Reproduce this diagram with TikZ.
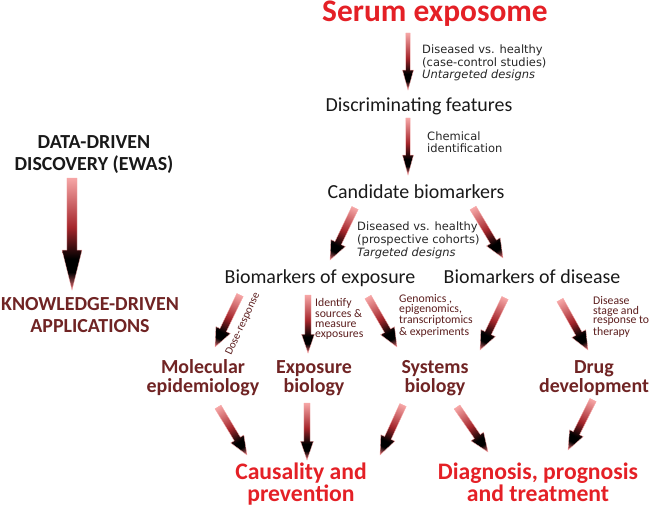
\documentclass[tikz,border=0pt]{standalone}
\usepackage{fontspec}
\setmainfont{Carlito}
\newfontfamily\verdanalike{DejaVu Sans}
\usetikzlibrary{positioning, calc}

\definecolor{serumred}{RGB}{228,32,38}
\definecolor{appred}{RGB}{112,36,36}
\definecolor{notebrown}{RGB}{92,30,30}
\definecolor{arrpink}{RGB}{246,166,166}
\definecolor{arrred}{RGB}{165,38,44}
\definecolor{arrtip}{RGB}{236,112,118}

% pink tail -> black neck -> reddish tip
\pgfdeclarehorizontalshading{arrowgrad}{100bp}{color(0bp)=(arrpink); color(25bp)=(arrpink);
  color(47bp)=(arrred); color(61bp)=(black); color(67bp)=(black); color(75bp)=(arrtip); color(100bp)=(arrtip)}

% \shadedarrow{tail}{head}{shaft half width}{head half width}{head length}, widths in pt
\newcommand\shadedarrow[5]{%
  \pgfpointdiff{\pgfpointanchor{#1}{center}}{\pgfpointanchor{#2}{center}}%
  \pgfgetlastxy{\arrdx}{\arrdy}%
  \pgfmathsetmacro\arrlen{veclen(\arrdx,\arrdy)}%
  \pgfmathsetmacro\arrang{atan2(\arrdy,\arrdx)}%
  \pgfmathsetmacro\arrneck{\arrlen-#5}%
  \pgfpointanchor{#1}{center}\pgfgetlastxy{\arrx}{\arry}%
  \begin{scope}[transform canvas={shift={(\arrx,\arry)}, rotate=\arrang}]
    \shade[shading=arrowgrad, draw=arrpink, line width=0.3pt]
      (0pt,-#3pt) -- (\arrneck pt,-#3pt) -- (\arrneck pt,-#4pt) -- (\arrlen pt,0pt)
      -- (\arrneck pt,#4pt) -- (\arrneck pt,#3pt) -- (0pt,#3pt) -- cycle;
  \end{scope}}

\begin{document}
\begin{tikzpicture}[
  x=0.03cm, y=-0.03cm,
  headline/.style = {font=\fontsize{26.8}{28}\selectfont\bfseries, text=serumred, inner sep=0pt, anchor=base},
  stage/.style    = {font=\fontsize{17}{19}\selectfont, text=black!90, inner sep=0pt, anchor=base},
  field/.style    = {font=\fontsize{17}{15.4}\selectfont\bfseries, text=appred, align=center, inner sep=0pt, anchor=base},
  goal/.style     = {font=\fontsize{20.2}{14.5}\selectfont\bfseries, text=serumred, align=center, inner sep=0pt, anchor=base},
  approach/.style = {font=\fontsize{17}{18}\selectfont\bfseries, align=center, inner sep=0pt, anchor=base},
  note/.style     = {font=\verdanalike\fontsize{9.8}{10.9}\selectfont, text=black!85, align=left, inner sep=0pt, anchor=base west},
  tinynote/.style = {font=\fontsize{10}{8.3}\selectfont, text=notebrown, align=left, inner sep=0pt, anchor=base west}
]
\useasboundingbox (0,0) rectangle (651,508);

% Main chain (base = last line)
\node[headline] (serum) at (435,22) {Serum exposome};
\node[stage] (discrim) at (419,112) {Discriminating features};
\node[stage] (candid) at (416,198) {Candidate biomarkers};
\node[stage] (bexpo) at (320,283) {Biomarkers of exposure};
\node[stage] (bdis) at (532,283) {Biomarkers of disease};

% Step notes
\node[note] (note1) at (422,79) {Diseased vs. healthy\\(case-control studies)\\\textit{Untargeted designs}};
\node[note] (note2) at (427,153) {Chemical\\identification};
\node[note] (note3) at (357,256) {Diseased vs. healthy\\(prospective cohorts)\\\textit{Targeted designs}};
\node[tinynote] (note4) at (315,337) {Identify\\sources \&\\measure\\exposures};
\node[tinynote] (note5) at (399,335) {Genomics ,\\epigenomics,\\transcriptomics\\\& experiments};
\node[tinynote] (note6) at (593,335) {Disease\\stage and\\response to\\therapy};
\node[tinynote, font=\fontsize{9.5}{10}\selectfont, rotate=65, anchor=center] (note7) at (243,324) {Dose-response};

% Fields
\node[field] (molepi) at (203,392) {Molecular\\epidemiology};
\node[field] (expobio) at (314,392) {Exposure\\biology};
\node[field] (sysbio) at (435,392) {Systems\\biology};
\node[field] (drugdev) at (594,392) {Drug\\development};

% Goals
\node[goal] (causal) at (301,501) {Causality and\\prevention};
\node[goal] (diagn) at (538,501) {Diagnosis, prognosis\\and treatment};

% Left side
\node[approach, text=black!90] (datadriven) at (94,170) {DATA-DRIVEN\\DISCOVERY (EWAS)};
\node[approach, text=appred] (knowdriven) at (90,332) {KNOWLEDGE-DRIVEN\\APPLICATIONS};

% Arrow ends
\coordinate (t1) at (408,33);  \coordinate (h1) at (408,90);
\coordinate (t2) at (408,118); \coordinate (h2) at (408,175);
\coordinate (t3) at (355,208); \coordinate (h3) at (330,260);
\coordinate (t4) at (473,208); \coordinate (h4) at (503,258);
\coordinate (t5) at (240,295); \coordinate (h5) at (215,347);
\coordinate (t6) at (308,295); \coordinate (h6) at (308,353);
\coordinate (t7) at (368,297); \coordinate (h7) at (397,347);
\coordinate (t8) at (505,298); \coordinate (h8) at (480,350);
\coordinate (t9) at (560,300); \coordinate (h9) at (588,350);
\coordinate (t10) at (218,407); \coordinate (h10) at (247,455);
\coordinate (t11) at (307,403); \coordinate (h11) at (307,460);
\coordinate (t12) at (403,405); \coordinate (h12) at (380,455);
\coordinate (t13) at (457,407); \coordinate (h13) at (488,452);
\coordinate (t14) at (593,400); \coordinate (h14) at (568,450);
\coordinate (t15) at (72,178);  \coordinate (h15) at (72,290);

% Arrows
\shadedarrow{t1}{h1}{1.9}{4.7}{17}
\shadedarrow{t2}{h2}{1.9}{4.7}{17}
\shadedarrow{t3}{h3}{3}{6.8}{16}
\shadedarrow{t4}{h4}{3}{6.8}{16}
\shadedarrow{t5}{h5}{3}{6.8}{16}
\shadedarrow{t6}{h6}{2.6}{5.5}{16}
\shadedarrow{t7}{h7}{3}{6.8}{16}
\shadedarrow{t8}{h8}{3}{6.8}{16}
\shadedarrow{t9}{h9}{3}{6.8}{16}
\shadedarrow{t10}{h10}{3}{6.5}{16}
\shadedarrow{t11}{h11}{2.6}{5.5}{16}
\shadedarrow{t12}{h12}{3}{6.5}{16}
\shadedarrow{t13}{h13}{3}{6.5}{16}
\shadedarrow{t14}{h14}{3}{6.5}{16}
\shadedarrow{t15}{h15}{4.3}{8.5}{34}

\end{tikzpicture}
\end{document}
